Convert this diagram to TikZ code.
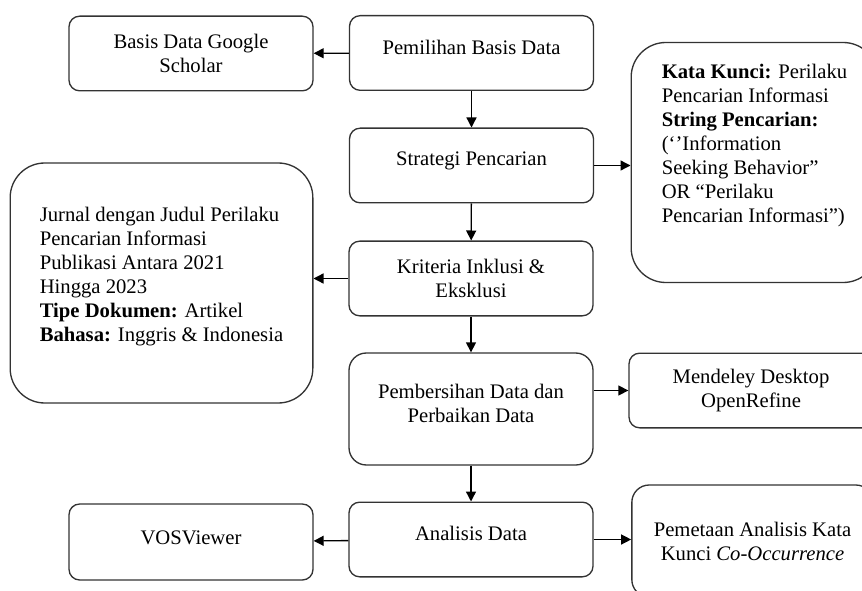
\documentclass[tikz,border=0pt]{standalone}
\usepackage{fontspec}
\setmainfont{Liberation Serif}
\usetikzlibrary{arrows.meta}
\newcommand{\ganjal}[1]{\rule[-#1]{0pt}{0pt}}

\begin{document}
\begin{tikzpicture}[x=0.75pt, y=-0.75pt,
    >={Triangle[length=7.5pt, width=7.5pt]},
    blok/.style={draw=black!80, line width=1pt, rounded corners=8pt,
                 minimum width=183pt, minimum height=56pt, align=center,
                 font=\fontsize{15.5pt}{18pt}\selectfont, inner sep=2pt},
    besar/.style={blok, align=left, rounded corners=26pt, minimum height=180pt},
    panah/.style={->, line width=1pt}
  ]
  \useasboundingbox (0,0) rectangle (862,591);
  \clip (0,0) rectangle (862,591);

  % Alur utama
  \node[blok] (pilih) at (471.5,53) {Pemilihan Basis Data\ganjal{9pt}};
  \node[blok] (strat) at (471.5,165.5) {Strategi Pencarian\ganjal{10pt}};
  \node[blok] (krit) at (471,278.5) {Kriteria Inklusi \&\\Eksklusi};
  \node[blok, minimum height=84pt, rounded corners=13pt] (bersih) at (471,409)
    {Pembersihan Data dan\\Perbaikan Data\ganjal{9pt}};
  \node[blok] (anal) at (471,539.5) {Analisis Data\ganjal{10pt}};

  % Kotak samping
  \node[blok] (gs) at (191,53.5) {Basis Data Google\\Scholar};
  \node[besar, minimum width=185pt] (kata) at (754.5,162.5) {
    \textbf{Kata Kunci:} Perilaku\\
    Pencarian Informasi\\
    \textbf{String Pencarian:}\\
    (`'Information\\
    Seeking Behavior''\\
    OR ``Perilaku\\
    Pencarian Informasi'')\ganjal{29pt}};
  \node[besar, minimum width=227pt] (jurnal) at (161.5,283) {
    Jurnal dengan Judul Perilaku\\
    Pencarian Informasi\\
    Publikasi Antara 2021\\
    Hingga 2023\\
    \textbf{Tipe Dokumen:} Artikel\\
    \textbf{Bahasa:} Inggris \& Indonesia\ganjal{12.5pt}};
  \node[blok] (mendeley) at (751,390.5) {Mendeley Desktop\\OpenRefine};
  \node[blok, minimum width=181pt, minimum height=84pt, rounded corners=13pt] (peta)
    at (752.5,541) {Pemetaan Analisis Kata\\Kunci \textit{Co-Occurrence}};
  \node[blok, minimum height=57pt] (vos) at (191,542) {VOSViewer\ganjal{6pt}};

  % Panah
  \draw[panah] (pilih) -- (gs);
  \draw[panah] (pilih) -- (strat);
  \draw[panah] (strat.east) -- (strat.east -| kata.west);
  \draw[panah] (strat) -- (krit);
  \draw[panah] (krit.west) -- (krit.west -| jurnal.east);
  \draw[panah] (krit) -- (bersih);
  \draw[panah] (bersih.east |- mendeley.west) -- (mendeley.west);
  \draw[panah] (bersih) -- (anal);
  \draw[panah] (anal) -- (vos);
  \draw[panah] (anal.east) -- (anal.east -| peta.west);
\end{tikzpicture}
\end{document}
